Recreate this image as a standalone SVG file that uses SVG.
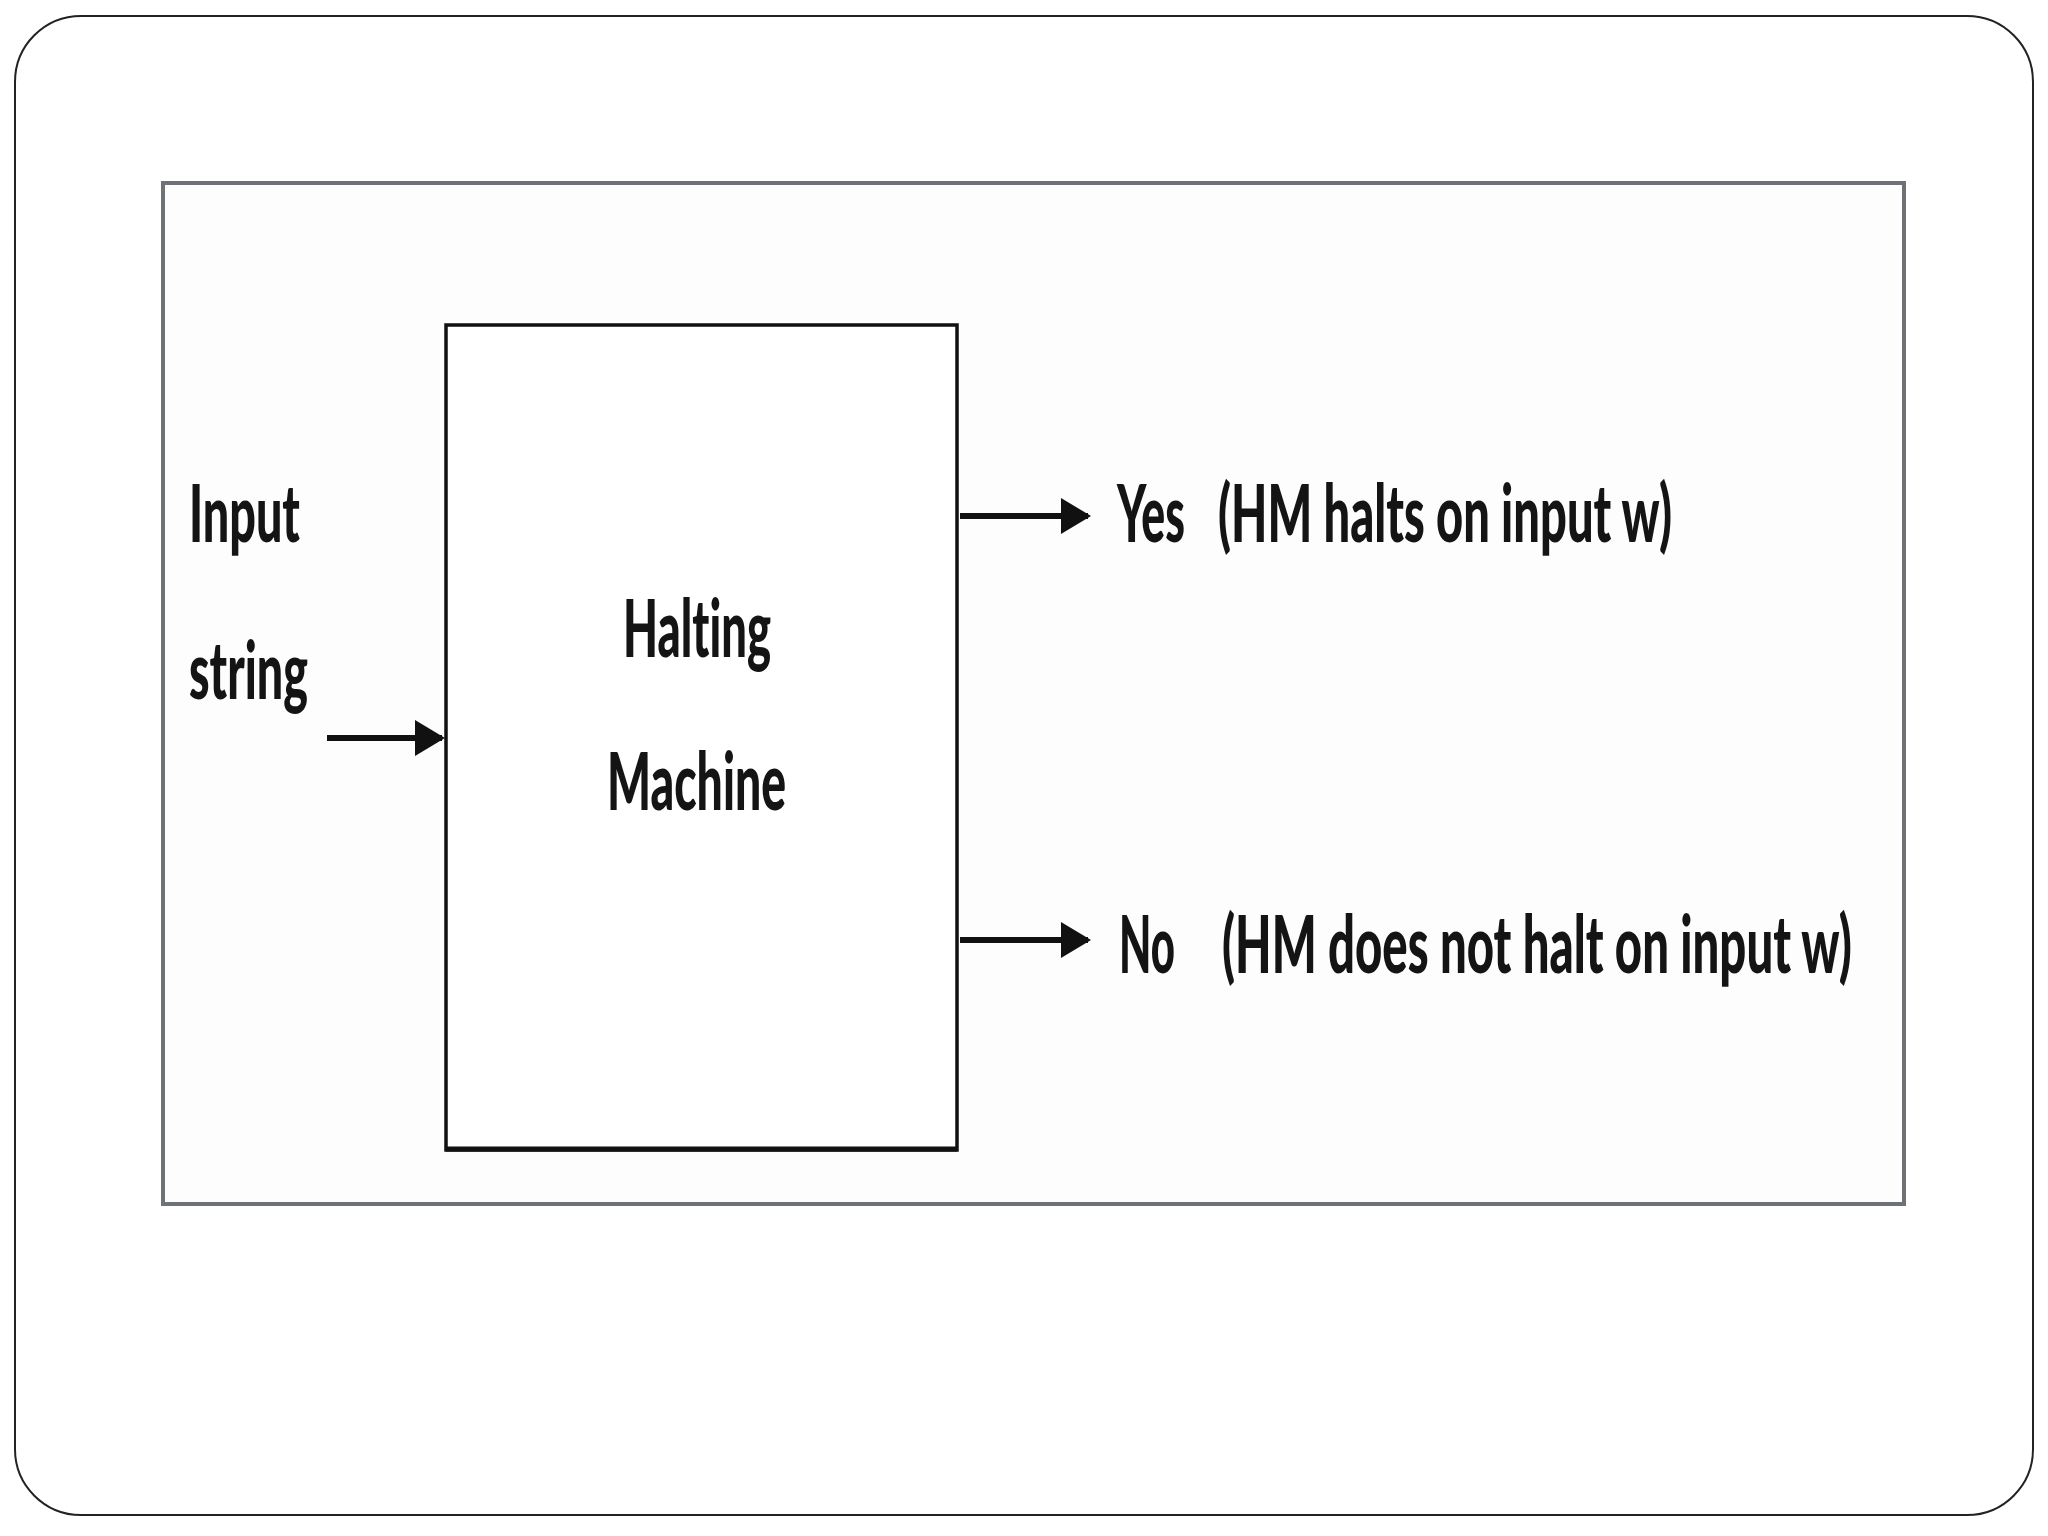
<svg xmlns="http://www.w3.org/2000/svg" width="2048" height="1536" viewBox="0 0 2048 1536">
<defs>
<style>
.lbl{font-family:Lato,"Liberation Sans",sans-serif;font-weight:900;font-size:40px;fill:#141414;font-variant-ligatures:none;font-feature-settings:"liga" 0}
.conn{stroke:#111;stroke-width:6;fill:none}
</style>
<marker id="ah" markerWidth="5" markerHeight="6" refX="4.5" refY="3" orient="auto" markerUnits="strokeWidth">
<path d="M0,0 L5,3 L0,6 Z" fill="#111"/>
</marker>
</defs>
<rect x="0" y="0" width="2048" height="1536" fill="#fff"/>
<rect id="slide" x="15" y="16" width="2018" height="1499" rx="66" ry="66" fill="#fff" stroke="#222" stroke-width="2"/>
<g id="frame">
<rect x="163" y="183" width="1741" height="1021" fill="#fdfdfe" stroke="#6e7276" stroke-width="4"/>
</g>
<g id="halting-machine">
<rect x="446" y="325" width="511" height="825" fill="#fff" stroke="#111" stroke-width="3.5"/>
<line x1="446" y1="1149" x2="957" y2="1149" stroke="#111" stroke-width="5"/>
<g transform="scale(1,2)">
<text class="lbl" x="623" y="328.5" textLength="148" lengthAdjust="spacingAndGlyphs">Halting</text>
<text class="lbl" x="607" y="405" textLength="179" lengthAdjust="spacingAndGlyphs">Machine</text>
</g>
</g>
<g id="input">
<g transform="scale(1,2)">
<text class="lbl" x="189" y="271" textLength="111" lengthAdjust="spacingAndGlyphs">Input</text>
<text class="lbl" x="189" y="349.5" textLength="119" lengthAdjust="spacingAndGlyphs">string</text>
</g>
</g>
<g id="yes">
<g transform="scale(1,2)">
<text class="lbl" x="1117" y="271" textLength="68" lengthAdjust="spacingAndGlyphs">Yes</text>
<text class="lbl" x="1218" y="271" textLength="454" lengthAdjust="spacingAndGlyphs">(HM halts on input w)</text>
</g>
</g>
<g id="no">
<g transform="scale(1,2)">
<text class="lbl" x="1119" y="486.5" textLength="56" lengthAdjust="spacingAndGlyphs">No</text>
<text class="lbl" x="1222" y="486.5" textLength="630" lengthAdjust="spacingAndGlyphs">(HM does not halt on input w)</text>
</g>
</g>
<g id="connectors">
<line class="conn" x1="327" y1="738" x2="442" y2="738" marker-end="url(#ah)"/>
<line class="conn" x1="960" y1="516" x2="1088" y2="516" marker-end="url(#ah)"/>
<line class="conn" x1="960" y1="940" x2="1088" y2="940" marker-end="url(#ah)"/>
</g>
</svg>
